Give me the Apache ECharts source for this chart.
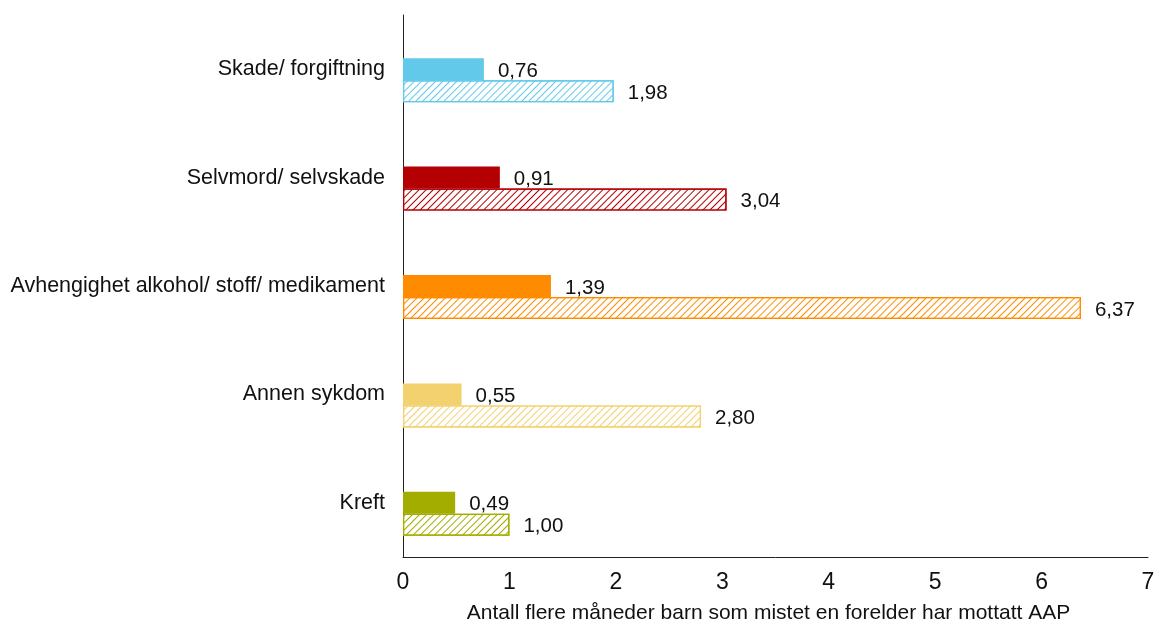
<!DOCTYPE html>
<html>
<head>
<meta charset="utf-8">
<script src="https://cdn.jsdelivr.net/npm/echarts@6/dist/echarts.min.js"></script>
<style>
  html, body { margin: 0; padding: 0; background: #fff; }
  #chart { width: 1156px; height: 622px; }
</style>
</head>
<body>
<div id="chart"></div>
<script>
// Causes of parental death (top to bottom)
const categories = [
  'Skade/ forgiftning',
  'Selvmord/ selvskade',
  'Avhengighet alkohol/ stoff/ medikament',
  'Annen sykdom',
  'Kreft'
];
const categoryColors = ['#62C9EB', '#B50003', '#FF8C00', '#F2D16E', '#A3AD00'];
// Solid bars and hatched bars
const solidValues = [0.76, 0.91, 1.39, 0.55, 0.49];
const hatchedValues = [1.98, 3.04, 6.37, 2.80, 1.00];
const xTicks = [0, 1, 2, 3, 4, 5, 6, 7];

const fmt = v => v.toFixed(2).replace('.', ',');
const FONT = 'Liberation Sans, Arial, sans-serif';
const NARROW = '"Liberation Sans Narrow", "Arial Narrow", Liberation Sans, sans-serif';
const TEXT = '#111';

const labelStyle = {
  show: true,
  position: 'right',
  distance: 14,
  offset: [0, 2],
  color: TEXT,
  fontSize: 20.5,
  fontFamily: FONT,
  formatter: p => fmt(p.value)
};

const chart = echarts.init(document.getElementById('chart'), null, { renderer: 'canvas' });
chart.setOption({
  animation: false,
  grid: { left: 403, right: 8, top: 15, bottom: 65, containLabel: false, outerBoundsMode: 'none' },
  xAxis: {
    type: 'value',
    min: xTicks[0],
    max: xTicks[xTicks.length - 1],
    interval: 1,
    splitLine: { show: false },
    axisTick: { show: false },
    axisLine: { show: true, onZero: false, lineStyle: { color: '#222', width: 1 } },
    axisLabel: { color: TEXT, fontSize: 23, fontFamily: NARROW, margin: 14 },
    name: 'Antall flere måneder barn som mistet en forelder har mottatt AAP',
    nameLocation: 'middle',
    nameGap: 46,
    nameTextStyle: { color: TEXT, fontSize: 21, fontFamily: FONT, padding: [0, 14, 0, 0] }
  },
  yAxis: {
    type: 'category',
    data: categories,
    inverse: true,
    axisTick: { show: false },
    axisLine: { show: true, lineStyle: { color: '#222', width: 1 } },
    axisLabel: { color: TEXT, fontSize: 21.5, fontFamily: FONT, margin: 18 }
  },
  series: [
    {
      name: 'spacer',
      type: 'bar',
      barWidth: 22,
      barGap: '0%',
      data: categories.map(() => null),
      silent: true
    },
    {
      name: 'solid',
      type: 'bar',
      barWidth: 22,
      barGap: '0%',
      data: solidValues.map((v, i) => ({
        value: v,
        itemStyle: { color: categoryColors[i] }
      })),
      label: labelStyle
    },
    {
      name: 'hatched',
      type: 'bar',
      barWidth: 22,
      barGap: '0%',
      data: hatchedValues.map((v, i) => ({
        value: v,
        itemStyle: {
          color: '#ffffff',
          borderColor: categoryColors[i],
          borderWidth: 1.2,
          decal: {
            symbol: 'rect',
            color: categoryColors[i],
            dashArrayX: [1, 0],
            dashArrayY: [1, 3.4],
            rotation: -Math.PI / 4
          }
        }
      })),
      label: labelStyle
    }
  ]
});
</script>
</body>
</html>
